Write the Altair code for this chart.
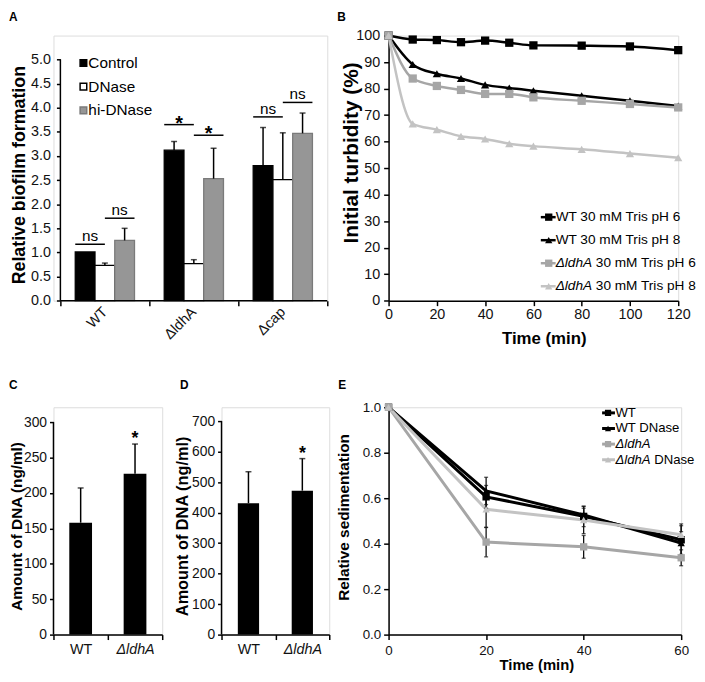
import altair as alt
import pandas as pd

FONT = "Liberation Sans"

# ---------------- Panel A : biofilm ----------------
groups_a = ["WT", "ΔldhA", "Δcap"]
treatments_a = ["Control", "DNase", "hi-DNase"]
biofilm_control = [1.01, 3.12, 2.80]
biofilm_dnase = [0.73, 0.77, 2.51]
biofilm_hidnase = [1.25, 2.53, 3.47]
biofilm_control_err = [0.00, 0.18, 0.79]
biofilm_dnase_err = [0.05, 0.08, 0.97]
biofilm_hidnase_err = [0.25, 0.63, 0.42]
sig_groups = ["WT", "WT", "ΔldhA", "ΔldhA", "Δcap", "Δcap"]
sig_pairs = ["Control-DNase", "DNase-hi-DNase"] * 3
sig_labels = ["ns", "ns", "*", "*", "ns", "ns"]
sig_heights = [1.17, 1.71, 3.65, 3.43, 3.81, 4.11]

# ---------------- Panel B : turbidity ----------------
time_b = [0, 10, 20, 30, 40, 50, 60, 80, 100, 120]
series_b = ["WT 30 mM Tris pH 6", "WT 30 mM Tris pH 8",
            "ΔldhA 30 mM Tris pH 6", "ΔldhA 30 mM Tris pH 8"]
turbidity_wt_ph6 = [100, 98.5, 98.3, 97.5, 98.1, 97.3, 96.3, 96.2, 95.9, 94.5]
turbidity_wt_ph8 = [100, 89.1, 85.6, 83.8, 81.4, 80.2, 79.2, 77.3, 75.4, 73.4]
turbidity_ldha_ph6 = [100, 83.8, 81.0, 79.5, 78.0, 78.0, 76.7, 75.4, 74.2, 72.9]
turbidity_ldha_ph8 = [100, 66.7, 64.5, 62.0, 61.0, 59.2, 58.3, 57.1, 55.5, 53.9]

# ---------------- Panels C, D : DNA ----------------
strains_cd = ["WT", "ΔldhA"]
dna_c = [158, 227]
dna_c_err = [49, 42]
dna_d = [431, 472]
dna_d_err = [103, 105]

# ---------------- Panel E : sedimentation ----------------
time_e = [0, 20, 40, 60]
series_e = ["WT", "WT DNase", "ΔldhA", "ΔldhA DNase"]
sed_wt = [1.0, 0.606, 0.520, 0.417]
sed_wt_dnase = [1.0, 0.632, 0.526, 0.403]
sed_ldha = [1.0, 0.407, 0.386, 0.338]
sed_ldha_dnase = [1.0, 0.551, 0.504, 0.439]
sed_wt_err = [0, 0.05, 0.045, 0.07]
sed_wt_dnase_err = [0, 0.06, 0.03, 0.05]
sed_ldha_err = [0, 0.065, 0.05, 0.035]
sed_ldha_dnase_err = [0, 0.08, 0.06, 0.04]

# ---------------- styles ----------------
BLACK = "#000000"
colors_b = ["#000000", "#000000", "#a6a6a6", "#c3c3c3"]
shapes_4 = ["square", "triangle-up", "square", "triangle-up"]
colors_e = ["#000000", "#000000", "#a6a6a6", "#bfbfbf"]

one = pd.DataFrame({"k": [0]})


def ax(**kw):
    base = dict(grid=False, labelFont=FONT, titleFont=FONT, labelColor="#111111",
                titleColor="#000000", domainColor="#000000", domainWidth=1.5,
                tickColor="#000000", tickWidth=1.5, tickSize=5, labelFlush=False,
                labelOverlap=False, titleFontWeight="bold")
    base.update(kw)
    return alt.Axis(**base)


def txt(x, y, s, size, weight="normal", style="normal", align="left", baseline="middle"):
    return alt.Chart(one).mark_text(text=s, fontSize=size, fontWeight=weight, fontStyle=style,
                                    align=align, baseline=baseline, font=FONT,
                                    color="#000000").encode(x=alt.value(x), y=alt.value(y))


def sym(x, y, shape, fill, size, stroke=None, sw=0.0):
    kw = dict(shape=shape, filled=True, size=size, fill=fill, opacity=1, strokeWidth=sw)
    kw["stroke"] = stroke if stroke else fill
    return alt.Chart(one).mark_point(**kw).encode(x=alt.value(x), y=alt.value(y))


def seg(x1, x2, y, color, width):
    return alt.Chart(one).mark_rule(color=color, strokeWidth=width).encode(
        x=alt.value(x1), x2=alt.value(x2), y=alt.value(y))


def anchor(x, y):
    # invisible point used only to pin the layout bounds
    return alt.Chart(one).mark_point(size=1, opacity=0, filled=True, strokeWidth=0).encode(
        x=alt.value(x), y=alt.value(y))


def legend_label(x, y, label, size):
    out = []
    key = "ΔldhA"
    if label.startswith(key):
        out.append(txt(x, y, key, size, style="italic"))
        rest = label[len(key):]
        off = 2.668 * size
        if rest.startswith(" "):
            rest = rest[1:]
            off += 0.278 * size
        if rest:
            out.append(txt(x + off, y, rest, size))
    else:
        out.append(txt(x, y, label, size))
    return out


def letter(x, y, s):
    return txt(x, y, s, 12, weight="bold", baseline="top")


# =============== Panel A ===============
PX_A = 90.0          # pixels per category
LEFT_A = 7.0         # extra room left of the y axis (row alignment with panel C)
W_A, H_A = 3 * PX_A + LEFT_A, 268.2
YMAX_A = 5.0 * H_A / 244.0
BW_A = 0.222
means_a = [biofilm_control, biofilm_dnase, biofilm_hidnase]
errs_a = [biofilm_control_err, biofilm_dnase_err, biofilm_hidnase_err]
rows = []
for gi, g in enumerate(groups_a):
    for ti, t in enumerate(treatments_a):
        c = gi + 0.5 + (ti - 1) * BW_A
        v = means_a[ti][gi]
        e = errs_a[ti][gi]
        rows.append(dict(group=g, treat=t, xc=c, x1=c - BW_A / 2, x2=c + BW_A / 2,
                         v=v, e=e, top=v + e, zero=0.0))
df_a = pd.DataFrame(rows)

srows = []
for g, p, lab, h in zip(sig_groups, sig_pairs, sig_labels, sig_heights):
    gi = groups_a.index(g)
    if p == "Control-DNase":
        s1 = gi + 0.5 - BW_A - BW_A / 2
        s2 = gi + 0.5
    else:
        s1 = gi + 0.5
        s2 = gi + 0.5 + BW_A + BW_A / 2
    srows.append(dict(s1=s1, s2=s2, sm=(s1 + s2) / 2, sy=h, label=lab))
df_sig = pd.DataFrame(srows)

xs_a = alt.Scale(domain=[-LEFT_A / PX_A, len(groups_a)], nice=False, zero=False)
ys_a = alt.Scale(domain=[0, YMAX_A], nice=False, zero=True)
expr_a = " : ".join(f"datum.value == {i + 0.5} ? '{g}'" for i, g in enumerate(groups_a)) + " : ''"
tick_hide = {"condition": {"test": "datum.value % 1 != 0", "value": "transparent"}, "value": "#000000"}
axis_xa = ax(values=[i * 0.5 for i in range(2 * len(groups_a) + 1)], labelExpr=expr_a,
             tickColor=tick_hide, labelAngle=-45, labelAlign="right", labelBaseline="middle",
             labelFontSize=14.5, labelPadding=4, title=None, domain=False)
axis_ya = ax(values=[i * 0.5 for i in range(11)], format=".1f", labelFontSize=14.5, domain=False,
             tickSize=4, labelPadding=6, title="Relative biofilm formation", titleFontSize=18,
             titleX=-32, titleY=140.7, offset=-LEFT_A)


def xa(f):
    return alt.X(f, type="quantitative", scale=xs_a, axis=axis_xa)


def ya(f):
    return alt.Y(f, type="quantitative", scale=ys_a, axis=axis_ya)


bars_a = alt.Chart(df_a).mark_bar(strokeWidth=1.3).encode(
    x=xa("x1"), x2=alt.X2("x2"), y=ya("v"), y2=alt.Y2("zero"),
    fill=alt.Fill("treat:N", scale=alt.Scale(domain=treatments_a, range=["#000000", "#ffffff", "#969696"]), legend=None),
    stroke=alt.Stroke("treat:N", scale=alt.Scale(domain=treatments_a, range=["#000000", "#000000", "#7a7a7a"]), legend=None),
)
err_a = alt.Chart(df_a).transform_filter("datum.e > 0").mark_rule(color=BLACK, strokeWidth=1.5).encode(
    x=xa("xc"), y=ya("v"), y2=alt.Y2("top"))
cap_a = alt.Chart(df_a).transform_filter("datum.e > 0").mark_tick(
    orient="horizontal", size=6, thickness=1.5, color=BLACK).encode(x=xa("xc"), y=ya("top"))
sig_rule = alt.Chart(df_sig).mark_rule(color=BLACK, strokeWidth=1.5).encode(
    x=xa("s1"), x2=alt.X2("s2"), y=ya("sy"))
sig_ns = alt.Chart(df_sig).transform_filter("datum.label == 'ns'").mark_text(
    font=FONT, fontSize=15.5, baseline="alphabetic", dy=-3, color=BLACK).encode(
    x=xa("sm"), y=ya("sy"), text="label:N")
sig_star = alt.Chart(df_sig).transform_filter("datum.label == '*'").mark_text(
    font=FONT, fontSize=20, fontWeight="bold", baseline="alphabetic", dy=5, color=BLACK).encode(
    x=xa("sm"), y=ya("sy"), text="label:N")
axes_a = pd.DataFrame({"x0": [0.0, 0.0], "x1": [0.0, float(len(groups_a))],
                       "y0": [0.0, 0.0], "y1": [5.0, 0.0]})
yline_a = alt.Chart(axes_a.iloc[[0]]).mark_rule(color=BLACK, strokeWidth=1.5).encode(
    x=xa("x0"), y=ya("y0"), y2=alt.Y2("y1"))
xline_a = alt.Chart(axes_a.iloc[[1]]).mark_rule(color=BLACK, strokeWidth=1.5).encode(
    x=xa("x0"), x2=alt.X2("x1"), y=ya("y0"))

leg_a = []
leg_fill = ["#000000", "#ffffff", "#969696"]
leg_stroke = ["#000000", "#000000", "#7a7a7a"]
for i, t in enumerate(treatments_a):
    yy = 27.7 + i * 24.0
    leg_a.append(sym(30.3, yy, "square", leg_fill[i], 45, stroke=leg_stroke[i], sw=1.5))
    leg_a.append(txt(35.3, yy, t, 15.5))

chart_a = alt.layer(bars_a, err_a, cap_a, sig_rule, sig_ns, sig_star, yline_a, xline_a, *leg_a,
                    letter(-45, -23.3, "A"), anchor(-45, -26.3), anchor(-45, 320.7)
                    ).properties(width=W_A, height=H_A)

# =============== Panel B ===============
W_B, H_B = 293, 268.2
vals_b = [turbidity_wt_ph6, turbidity_wt_ph8, turbidity_ldha_ph6, turbidity_ldha_ph8]
df_b = pd.DataFrame([dict(t=t, v=v, s=s, o=si) for si, (s, vs) in enumerate(zip(series_b, vals_b))
                     for t, v in zip(time_b, vs)])
xb = alt.X("t:Q", scale=alt.Scale(domain=[0, 120], nice=False),
           axis=ax(values=list(range(0, 121, 20)), labelFontSize=14.5, labelPadding=2,
                   title="Time (min)", titleFontSize=17, titleX=157, titleY=43.5,
                   titleBaseline="alphabetic"))
yb = alt.Y("v:Q", scale=alt.Scale(domain=[0, 100], nice=False),
           axis=ax(values=list(range(0, 101, 10)), labelFontSize=14.5, labelPadding=4,
                   title="Initial turbidity (%)", titleFontSize=21, titleX=-27, titleY=118.2))
col_b = alt.Color("s:N", scale=alt.Scale(domain=series_b, range=colors_b), legend=None)
shp_b = alt.Shape("s:N", scale=alt.Scale(domain=series_b, range=shapes_4), legend=None)
lines_b = alt.Chart(df_b).mark_line(strokeWidth=2.5, interpolate="monotone").encode(
    x=xb, y=yb, color=col_b, order="o:Q")
pts_b = alt.Chart(df_b).mark_point(filled=True, opacity=1, size=70).encode(
    x=xb, y=yb, color=col_b, shape=shp_b)
leg_b = []
for i, s in enumerate(series_b):
    yy = 183.7 + i * 23.3
    leg_b.append(seg(154, 169, yy, colors_b[i], 2.5))
    leg_b.append(sym(162, yy, shapes_4[i], colors_b[i], 55))
    leg_b.extend(legend_label(169, yy, s, 13.8))
chart_b = alt.layer(lines_b, pts_b, *leg_b, letter(-52, -23.3, "B")).properties(width=W_B, height=H_B)


# =============== Panels C, D ===============
def dna_panel(vals, errs, top_tick, step, px_top, width, bar_px, title_x, title_size, lab, let_x,
              extra=()):
    H = 230
    ymax = top_tick * H / px_top
    bw = bar_px / (width / len(strains_cd))
    d = pd.DataFrame([dict(xc=i + 0.5, x1=i + 0.5 - bw / 2, x2=i + 0.5 + bw / 2, v=v, top=v + e, zero=0.0,
                           star="*" if i > 0 else "") for i, (v, e) in enumerate(zip(vals, errs))])
    xs = alt.Scale(domain=[0, len(strains_cd)], nice=False, zero=False)
    ys = alt.Scale(domain=[0, ymax], nice=False, zero=True)
    expr = " : ".join(f"datum.value == {i + 0.5} ? '{g}'" for i, g in enumerate(strains_cd)) + " : ''"
    xaxis = ax(values=[i * 0.5 for i in range(2 * len(strains_cd) + 1)], labelExpr=expr,
               tickColor=tick_hide, labelFontSize=14.5, labelPadding=3, title=None,
               labelFontStyle={"condition": {"test": "datum.value == 1.5", "value": "italic"}, "value": "normal"})
    yaxis = ax(values=list(range(0, top_tick + 1, step)), labelFontSize=14, tickSize=4, labelPadding=3,
               domain=False, title="Amount of DNA (ng/ml)", titleFontSize=title_size,
               titleX=title_x, titleY=120)

    def X(f):
        return alt.X(f, type="quantitative", scale=xs, axis=xaxis)

    def Y(f):
        return alt.Y(f, type="quantitative", scale=ys, axis=yaxis)

    bars = alt.Chart(d).mark_bar(color=BLACK).encode(x=X("x1"), x2=alt.X2("x2"), y=Y("v"), y2=alt.Y2("zero"))
    err = alt.Chart(d).mark_rule(color=BLACK, strokeWidth=1.5).encode(x=X("xc"), y=Y("v"), y2=alt.Y2("top"))
    cap = alt.Chart(d).mark_tick(orient="horizontal", size=6, thickness=1.5, color=BLACK).encode(
        x=X("xc"), y=Y("top"))
    star = alt.Chart(d).mark_text(font=FONT, fontSize=18, fontWeight="bold", baseline="alphabetic",
                                  color=BLACK).encode(x=X("xc"), y=Y("top"), text="star:N")
    yline = alt.Chart(pd.DataFrame({"x": [0.0], "y0": [0.0], "y1": [float(top_tick)]})).mark_rule(
        color=BLACK, strokeWidth=1.5).encode(x=X("x"), y=Y("y0"), y2=alt.Y2("y1"))
    return alt.layer(bars, err, cap, star, yline, letter(let_x, -27, lab), *extra).properties(
        width=width, height=H)


chart_c = dna_panel(dna_c, dna_c_err, 300, 50, 215.0, 110, 23, -29, 15.5, "C", -45,
                    extra=(anchor(-45, -30),))
chart_d = dna_panel(dna_d, dna_d_err, 700, 100, 216.0, 109, 21.5, -31, 16.5, "D", -42)

# =============== Panel E ===============
W_E, H_E = 296, 230
vals_e = [sed_wt, sed_wt_dnase, sed_ldha, sed_ldha_dnase]
errs_e = [sed_wt_err, sed_wt_dnase_err, sed_ldha_err, sed_ldha_dnase_err]
df_e = pd.DataFrame([dict(t=t, v=v, lo=v - e, hi=v + e, e=e, s=s, o=si)
                     for si, (s, vs, es) in enumerate(zip(series_e, vals_e, errs_e))
                     for t, v, e in zip(time_e, vs, es)])
xe = alt.X("t:Q", scale=alt.Scale(domain=[0, 60], nice=False),
           axis=ax(values=[0, 20, 40, 60], labelFontSize=13.5, labelPadding=4, title="Time (min)",
                   titleFontSize=15, titleX=149.5, titleY=35.7, titleBaseline="alphabetic"))
ye = alt.Y("v:Q", scale=alt.Scale(domain=[0, 1], nice=False),
           axis=ax(values=[0, 0.2, 0.4, 0.6, 0.8, 1.0], format=".1f", labelFontSize=13.5, labelPadding=3,
                   title="Relative sedimentation", titleFontSize=15.5, titleX=-38, titleY=111))
col_e = alt.Color("s:N", scale=alt.Scale(domain=series_e, range=colors_e), legend=None)
shp_e = alt.Shape("s:N", scale=alt.Scale(domain=series_e, range=shapes_4), legend=None)
lines_e = alt.Chart(df_e).mark_line(strokeWidth=3).encode(x=xe, y=ye, color=col_e, order="o:Q")
err_e = alt.Chart(df_e).transform_filter("datum.e > 0").mark_rule(color="#111111", strokeWidth=1.3).encode(
    x=xe, y=alt.Y("lo:Q", scale=alt.Scale(domain=[0, 1], nice=False)), y2=alt.Y2("hi"))
caplo_e = alt.Chart(df_e).transform_filter("datum.e > 0").mark_tick(
    orient="horizontal", size=4, thickness=1.3, color="#111111").encode(x=xe, y=alt.Y("lo:Q"))
caphi_e = alt.Chart(df_e).transform_filter("datum.e > 0").mark_tick(
    orient="horizontal", size=4, thickness=1.3, color="#111111").encode(x=xe, y=alt.Y("hi:Q"))
pts_e = alt.Chart(df_e).mark_point(filled=True, opacity=1, size=55).encode(
    x=xe, y=ye, color=col_e, shape=shp_e)
leg_e = []
for i, s in enumerate(series_e):
    yy = 5.7 + i * 15.8
    leg_e.append(seg(216, 229, yy, colors_e[i], 3))
    leg_e.append(sym(222, yy, shapes_4[i], colors_e[i], 40))
    leg_e.extend(legend_label(229.5, yy, s, 13.3))
chart_e = alt.layer(lines_e, err_e, caplo_e, caphi_e, pts_e, *leg_e,
                    letter(-51, -27, "E")).properties(width=W_E, height=H_E)

# =============== layout ===============
row1 = alt.hconcat(chart_a, chart_b, spacing=62, bounds="flush")
row2 = alt.hconcat(chart_c, chart_d, chart_e, spacing=60, bounds="flush")
chart = alt.vconcat(row1, row2, spacing=23, bounds="full").properties(
    padding={"top": -4, "left": 0, "right": 0, "bottom": 0}
).configure_view(stroke=None).configure(font=FONT)

chart.save("out.html", embed_options={"renderer": "svg", "actions": False})
